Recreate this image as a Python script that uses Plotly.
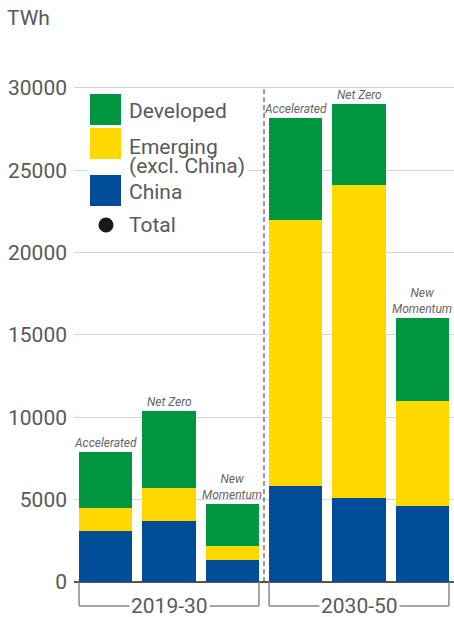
import plotly.graph_objects as go

# Electricity generation by region, TWh, stacked per scenario and period
periods = ["2019-30", "2019-30", "2019-30", "2030-50", "2030-50", "2030-50"]
scenarios = ["Accelerated", "Net Zero", "New<br>Momentum",
             "Accelerated", "Net Zero", "New<br>Momentum"]
china = [3100, 3700, 1350, 5800, 5100, 4600]
emerging = [1400, 2000, 850, 16200, 19000, 6400]
developed = [3400, 4700, 2550, 6200, 4900, 5000]
totals = [c + e + d for c, e, d in zip(china, emerging, developed)]

y_ticks = [0, 5000, 10000, 15000, 20000, 25000, 30000]
y_tick_text = ["0", "5000", "10000", "15000", "20000", "25000", "30000"]

GREEN = "#00963F"
YELLOW = "#FFD800"
BLUE = "#004C97"
GREY_TXT = "#595959"
FONT = "Roboto"

W, H = 454, 617
ML, MR, MT, MB = 74, 0, 78, 35
PW, PH = W - ML - MR, H - MT - MB
X0, X1 = -0.5, len(periods) - 0.5
Y1 = 30600
BAR_W = 0.84

xs = list(range(len(periods)))

fig = go.Figure()
for name, vals, col in [("China", china, BLUE),
                        ("Emerging (excl. China)", emerging, YELLOW),
                        ("Developed", developed, GREEN)]:
    fig.add_trace(go.Bar(x=xs, y=vals, name=name, marker_color=col,
                         marker_line_width=0, width=BAR_W, showlegend=False))


def px_x(px):
    return (px - ML) / PW


def px_y(py):
    return (MT + PH - py) / PH


def data_x(x):
    return (x - X0) / (X1 - X0)


shapes = []
annotations = []

# scenario labels above each bar
for x, tot, lab in zip(xs, totals, scenarios):
    annotations.append(dict(x=x, y=tot, xref="x", yref="y", text=lab,
                            showarrow=False, yanchor="bottom", yshift=0,
                            font=dict(family=FONT, size=12, color="#666666",
                                      style="italic")))

# dashed divider between periods
shapes.append(dict(type="line", xref="x", yref="y", x0=2.5, x1=2.5,
                   y0=0, y1=30000, line=dict(color="#333333", width=1,
                                             dash="5px,3px")))

# period brackets below the axis
groups = []
for i, p in enumerate(periods):
    if not groups or groups[-1][0] != p:
        groups.append([p, i, i])
    else:
        groups[-1][2] = i
yb = px_y(606)
for p, i0, i1 in groups:
    xa = data_x(i0 - BAR_W / 2)
    xb = data_x(i1 + BAR_W / 2)
    line = dict(color="#8a8a8a", width=1.5)
    shapes.append(dict(type="line", xref="paper", yref="paper",
                       x0=xa, x1=xa, y0=0, y1=yb, line=line))
    shapes.append(dict(type="line", xref="paper", yref="paper",
                       x0=xb, x1=xb, y0=0, y1=yb, line=line))
    shapes.append(dict(type="line", xref="paper", yref="paper",
                       x0=xa, x1=xb, y0=yb, y1=yb, line=line))
    annotations.append(dict(x=(xa + xb) / 2, y=yb, xref="paper", yref="paper",
                            text=p, showarrow=False, xanchor="center",
                            yanchor="middle", bgcolor="white", borderpad=1,
                            font=dict(family=FONT, size=21, color=GREY_TXT)))

# legend
shapes.append(dict(type="rect", xref="paper", yref="paper",
                   x0=px_x(87), x1=px_x(247), y0=px_y(240), y1=px_y(90),
                   fillcolor="white", line_width=0, layer="above"))
for col, top, bot in [(GREEN, 94, 125), (YELLOW, 128, 159), (BLUE, 175, 206)]:
    shapes.append(dict(type="rect", xref="paper", yref="paper",
                       x0=px_x(90), x1=px_x(121), y0=px_y(bot), y1=px_y(top),
                       fillcolor=col, line_width=0, layer="above"))
shapes.append(dict(type="circle", xref="paper", yref="paper",
                   x0=px_x(98.5), x1=px_x(113.5), y0=px_y(232.5),
                   y1=px_y(217.5), fillcolor="#1a1a1a", line_width=0,
                   layer="above"))
for txt, cy in [("Developed", 111), ("Emerging", 146.5), ("(excl. China)", 166),
                ("China", 191.5), ("Total", 225.5)]:
    annotations.append(dict(x=px_x(127), y=px_y(cy), xref="paper",
                            yref="paper", text=txt, showarrow=False,
                            xanchor="left", yanchor="middle",
                            font=dict(family=FONT, size=21, color=GREY_TXT)))

# unit label
annotations.append(dict(x=px_x(5), y=px_y(18), xref="paper", yref="paper",
                        text="TWh", showarrow=False, xanchor="left",
                        yanchor="middle",
                        font=dict(family=FONT, size=21, color=GREY_TXT)))

fig.update_layout(
    width=W, height=H,
    margin=dict(l=ML, r=MR, t=MT, b=MB, pad=0),
    barmode="stack",
    plot_bgcolor="white", paper_bgcolor="white",
    shapes=shapes, annotations=annotations,
    showlegend=False,
    xaxis=dict(range=[X0, X1], showticklabels=False, showgrid=False,
               zeroline=False, showline=False, ticks=""),
    yaxis=dict(range=[0, Y1], tickvals=y_ticks, ticktext=y_tick_text,
               showgrid=True, gridcolor="#d6d6d6", gridwidth=1,
               zeroline=True, zerolinecolor="#555555", zerolinewidth=2,
               ticks="", ticklabelstandoff=6,
               tickfont=dict(family=FONT, size=21, color=GREY_TXT)),
)

fig.write_html("out.html")
